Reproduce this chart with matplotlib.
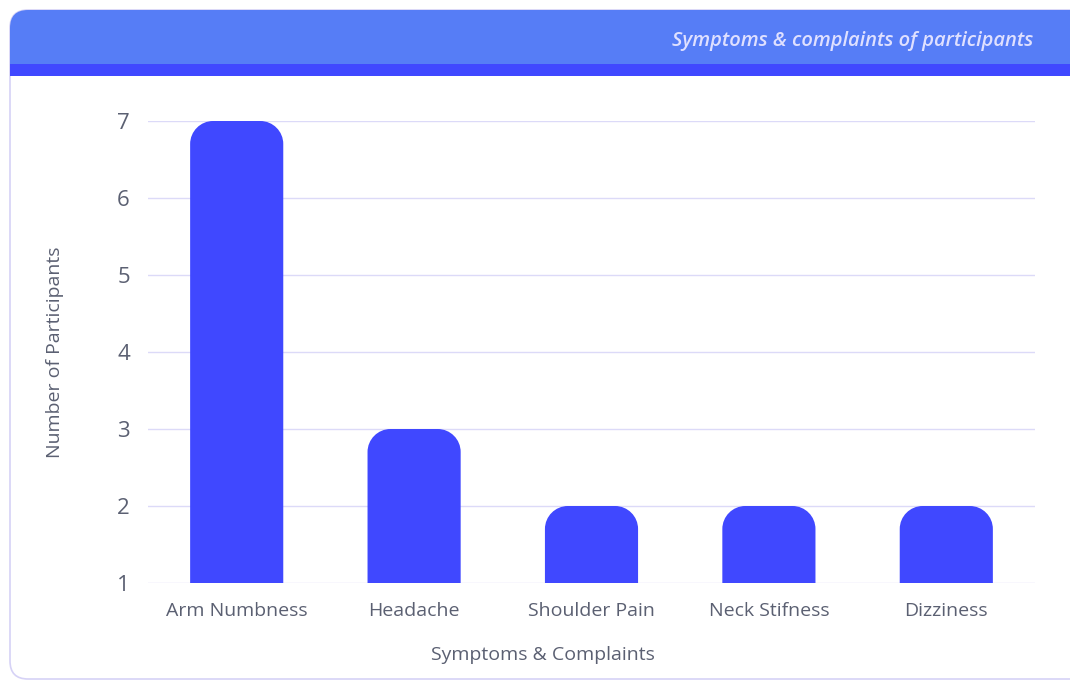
import matplotlib
matplotlib.use("Agg")
import matplotlib.pyplot as plt
from matplotlib.patches import FancyBboxPatch, Rectangle, PathPatch
from matplotlib.path import Path

# Data
categories = ["Arm Numbness", "Headache", "Shoulder Pain", "Neck Stifness", "Dizziness"]
participants = [7, 3, 2, 2, 2]
y_ticks = [1, 2, 3, 4, 5, 6, 7]
baseline = 1

title = "Symptoms & complaints of participants"
x_label = "Symptoms & Complaints"
y_label = "Number of Participants"

BAR = "#4048ff"
HEADER = "#567df6"
STRIP = "#4048ff"
TEXT = "#5b6072"
GRID = "#dcdaf8"
BORDER = "#d6d2f6"
FONT = ["Open Sans", "DejaVu Sans"]

W, H = 1070, 682
fig = plt.figure(figsize=(W / 100, H / 100), dpi=100)
fig.patch.set_facecolor("white")

# Card and header, drawn in pixel coordinates
deco = fig.add_axes([0, 0, 1, 1], zorder=0)
deco.set_xlim(0, W)
deco.set_ylim(H, 0)
deco.axis("off")

card = FancyBboxPatch((10, 10), 1100, 669, boxstyle="round,pad=0,rounding_size=18",
                      facecolor="white", edgecolor=BORDER, linewidth=1.2)
deco.add_patch(card)
head = FancyBboxPatch((10, 10), 1100, 54, boxstyle="round,pad=0,rounding_size=18",
                      facecolor=HEADER, edgecolor="none")
deco.add_patch(head)
deco.add_patch(Rectangle((10, 40), 1100, 24, facecolor=HEADER, edgecolor="none"))
deco.add_patch(Rectangle((10, 64), 1100, 12, facecolor=STRIP, edgecolor="none"))
deco.text(1033, 41, title, ha="right", va="center", fontsize=14.5, fontstyle="italic",
          fontweight="semibold", color="#dfe0ff", family=FONT)

# Chart axes
ax_left, ax_right, ax_top, ax_bottom = 148, 1035, 121, 583
ax = fig.add_axes([ax_left / W, (H - ax_bottom) / H, (ax_right - ax_left) / W,
                   (ax_bottom - ax_top) / H], zorder=1)
ax.set_facecolor("none")
ax.set_xlim(-0.5, len(categories) - 0.5)
ax.set_ylim(baseline, max(y_ticks))

bar_w = 0.525
px_per_x = (ax_right - ax_left) / len(categories)
px_per_y = (ax_bottom - ax_top) / (max(y_ticks) - baseline)
r_px = 23
rx = r_px / px_per_x
ry = r_px / px_per_y
k = 0.5523


def rounded_top_bar(xc, top, bottom):
    x0, x1 = xc - bar_w / 2, xc + bar_w / 2
    verts = [
        (x0, bottom), (x0, top - ry),
        (x0, top - ry + k * ry), (x0 + rx - k * rx, top), (x0 + rx, top),
        (x1 - rx, top),
        (x1 - rx + k * rx, top), (x1, top - ry + k * ry), (x1, top - ry),
        (x1, bottom), (x0, bottom),
    ]
    codes = [Path.MOVETO, Path.LINETO,
             Path.CURVE4, Path.CURVE4, Path.CURVE4,
             Path.LINETO,
             Path.CURVE4, Path.CURVE4, Path.CURVE4,
             Path.LINETO, Path.CLOSEPOLY]
    return Path(verts, codes)


for i, v in enumerate(participants):
    ax.add_patch(PathPatch(rounded_top_bar(i, v, baseline), facecolor=BAR,
                           edgecolor="none", zorder=3))

ax.set_yticks(y_ticks)
ax.set_yticklabels([str(t) for t in y_ticks], fontsize=16, color=TEXT, family=FONT)
ax.set_xticks(range(len(categories)))
ax.set_xticklabels(categories, fontsize=14, color=TEXT, family=FONT)
ax.tick_params(axis="both", length=0)
ax.tick_params(axis="y", pad=13)
ax.tick_params(axis="x", pad=14)
ax.grid(axis="y", color=GRID, linewidth=1, zorder=0)
for s in ax.spines.values():
    s.set_visible(False)

ax.set_xlabel(x_label, fontsize=14, color=TEXT, family=FONT)
ax.set_ylabel(y_label, fontsize=14, color=TEXT, family=FONT)
ax.xaxis.set_label_coords(0.5 + (543 - (ax_left + ax_right) / 2) / (ax_right - ax_left),
                          -(655 - ax_bottom) / (ax_bottom - ax_top))
ax.yaxis.set_label_coords(-(ax_left - 55) / (ax_right - ax_left),
                          (ax_bottom - 352) / (ax_bottom - ax_top))
ax.xaxis.label.set_verticalalignment("center")
ax.yaxis.label.set_verticalalignment("center")

fig.savefig("out.png", dpi=100, facecolor="white")
